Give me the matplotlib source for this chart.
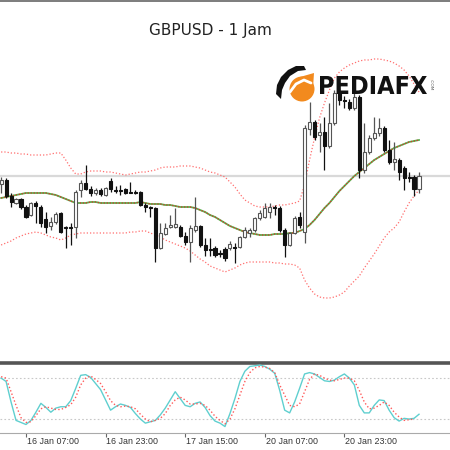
import matplotlib
matplotlib.use("Agg")
import matplotlib.pyplot as plt
import matplotlib.transforms as mtransforms
from matplotlib.textpath import TextPath
from matplotlib.font_manager import FontProperties
from matplotlib.patches import PathPatch, Circle, Polygon
from matplotlib.transforms import Affine2D
import numpy as np

# ---------------- data (GBPUSD H1) ----------------
opens = [1.2216, 1.2220, 1.2204, 1.2197, 1.2201, 1.2193, 1.2185, 1.2197, 1.2193, 1.2181,
         1.2174, 1.2178, 1.2187, 1.2173, 1.2173, 1.2173, 1.2210, 1.2217, 1.2211, 1.2207,
         1.2210, 1.2205, 1.2219, 1.2210, 1.2210, 1.2211, 1.2208, 1.2208, 1.2208, 1.2195,
         1.2193, 1.2192, 1.2152, 1.2166, 1.2173, 1.2173, 1.2173, 1.2164, 1.2158, 1.2170,
         1.2174, 1.2155, 1.2151, 1.2152, 1.2147, 1.2151, 1.2152, 1.2153, 1.2153, 1.2163,
         1.2167, 1.2170, 1.2182, 1.2183, 1.2188, 1.2193, 1.2192, 1.2170, 1.2155, 1.2167,
         1.2183, 1.2168, 1.2271, 1.2278, 1.2265, 1.2268, 1.2254, 1.2277, 1.2307, 1.2300,
         1.2298, 1.2292, 1.2303, 1.2230, 1.2248, 1.2262, 1.2267, 1.2272, 1.2250, 1.2238,
         1.2240, 1.2232, 1.2223, 1.2223, 1.2211]
highs = [1.2223, 1.2222, 1.2207, 1.2202, 1.2202, 1.2195, 1.2198, 1.2199, 1.2195, 1.2188,
         1.2183, 1.2188, 1.2188, 1.2174, 1.2177, 1.2210, 1.2220, 1.2235, 1.2214, 1.2212,
         1.2212, 1.2213, 1.2222, 1.2214, 1.2215, 1.2212, 1.2218, 1.2210, 1.2209, 1.2197,
         1.2194, 1.2193, 1.2177, 1.2177, 1.2185, 1.2192, 1.2175, 1.2168, 1.2175, 1.2203,
         1.2175, 1.2162, 1.2162, 1.2154, 1.2150, 1.2153, 1.2159, 1.2157, 1.2164, 1.2173,
         1.2172, 1.2183, 1.2190, 1.2197, 1.2197, 1.2195, 1.2194, 1.2172, 1.2168, 1.2184,
         1.2188, 1.2275, 1.2298, 1.2280, 1.2277, 1.2283, 1.2297, 1.2310, 1.2312, 1.2304,
         1.2301, 1.2307, 1.2305, 1.2277, 1.2265, 1.2283, 1.2282, 1.2274, 1.2260, 1.2258,
         1.2242, 1.2234, 1.2228, 1.2225, 1.2228]
lows = [1.2207, 1.2202, 1.2193, 1.2196, 1.2191, 1.2182, 1.2184, 1.2177, 1.2173, 1.2167,
        1.2170, 1.2176, 1.2167, 1.2152, 1.2155, 1.2162, 1.2203, 1.2210, 1.2204, 1.2205,
        1.2204, 1.2204, 1.2208, 1.2207, 1.2205, 1.2206, 1.2207, 1.2206, 1.2194, 1.2188,
        1.2183, 1.2138, 1.2151, 1.2165, 1.2172, 1.2172, 1.2163, 1.2155, 1.2138, 1.2168,
        1.2153, 1.2144, 1.2144, 1.2143, 1.2143, 1.2139, 1.2150, 1.2137, 1.2152, 1.2162,
        1.2163, 1.2168, 1.2180, 1.2182, 1.2182, 1.2185, 1.2168, 1.2143, 1.2154, 1.2166,
        1.2172, 1.2157, 1.2265, 1.2260, 1.2248, 1.2230, 1.2252, 1.2275, 1.2295, 1.2292,
        1.2290, 1.2290, 1.2222, 1.2227, 1.2246, 1.2260, 1.2264, 1.2248, 1.2236, 1.2230,
        1.2220, 1.2210, 1.2218, 1.2204, 1.2207]
closes = [1.2220, 1.2204, 1.2198, 1.2201, 1.2193, 1.2183, 1.2197, 1.2194, 1.2177, 1.2173,
          1.2178, 1.2186, 1.2168, 1.2172, 1.2172, 1.2208, 1.2217, 1.2211, 1.2207, 1.2210,
          1.2206, 1.2212, 1.2211, 1.2209, 1.2209, 1.2207, 1.2207, 1.2207, 1.2195, 1.2193,
          1.2192, 1.2152, 1.2167, 1.2172, 1.2175, 1.2176, 1.2164, 1.2158, 1.2172, 1.2174,
          1.2155, 1.2150, 1.2150, 1.2145, 1.2146, 1.2142, 1.2156, 1.2152, 1.2163, 1.2170,
          1.2170, 1.2182, 1.2187, 1.2192, 1.2193, 1.2192, 1.2170, 1.2155, 1.2167, 1.2182,
          1.2175, 1.2272, 1.2278, 1.2263, 1.2268, 1.2254, 1.2277, 1.2307, 1.2300, 1.2299,
          1.2292, 1.2303, 1.2230, 1.2248, 1.2262, 1.2267, 1.2272, 1.2250, 1.2238, 1.2241,
          1.2228, 1.2222, 1.2222, 1.2211, 1.2224]

bb_upper = [1.2248, 1.2248, 1.2247, 1.2247, 1.2246, 1.2246, 1.2245, 1.2245, 1.2245, 1.2245,
            1.2246, 1.2247, 1.2247, 1.2240, 1.2232, 1.2226, 1.2226, 1.2228, 1.2229, 1.2229,
            1.2229, 1.2228, 1.2228, 1.2227, 1.2226, 1.2225, 1.2226, 1.2227, 1.2228, 1.2228,
            1.2229, 1.2230, 1.2232, 1.2233, 1.2233, 1.2233, 1.2234, 1.2234, 1.2234, 1.2233,
            1.2232, 1.2230, 1.2228, 1.2227, 1.2225, 1.2223, 1.2218, 1.2213, 1.2206, 1.2200,
            1.2197, 1.2194, 1.2193, 1.2193, 1.2193, 1.2194, 1.2195, 1.2195, 1.2196, 1.2197,
            1.2199, 1.2215, 1.2240, 1.2262, 1.2282, 1.2297, 1.2310, 1.2322, 1.2328, 1.2332,
            1.2335, 1.2337, 1.2339, 1.2340, 1.2340, 1.2341, 1.2341, 1.2340, 1.2339, 1.2337,
            1.2334, 1.2330, 1.2324, 1.2316, 1.2308]
bb_middle = [1.2202, 1.2203, 1.2204, 1.2205, 1.2206, 1.2207, 1.2207, 1.2207, 1.2207, 1.2207,
             1.2206, 1.2205, 1.2203, 1.2201, 1.2199, 1.2197, 1.2197, 1.2197, 1.2198, 1.2198,
             1.2197, 1.2197, 1.2197, 1.2197, 1.2197, 1.2197, 1.2197, 1.2197, 1.2198, 1.2197,
             1.2196, 1.2196, 1.2196, 1.2195, 1.2195, 1.2194, 1.2193, 1.2193, 1.2193, 1.2192,
             1.2190, 1.2188, 1.2185, 1.2183, 1.2180, 1.2177, 1.2174, 1.2172, 1.2170, 1.2168,
             1.2167, 1.2166, 1.2165, 1.2165, 1.2165, 1.2166, 1.2166, 1.2166, 1.2167, 1.2167,
             1.2169, 1.2171, 1.2175, 1.2180, 1.2186, 1.2192, 1.2197, 1.2203, 1.2209, 1.2214,
             1.2219, 1.2224, 1.2228, 1.2232, 1.2236, 1.2240, 1.2243, 1.2246, 1.2249, 1.2252,
             1.2254, 1.2256, 1.2258, 1.2259, 1.2260]
bb_lower = [1.2155, 1.2157, 1.2159, 1.2162, 1.2164, 1.2166, 1.2167, 1.2168, 1.2167, 1.2165,
            1.2163, 1.2162, 1.2160, 1.2162, 1.2165, 1.2166, 1.2167, 1.2167, 1.2167, 1.2167,
            1.2167, 1.2167, 1.2167, 1.2167, 1.2167, 1.2167, 1.2168, 1.2168, 1.2169, 1.2169,
            1.2167, 1.2165, 1.2163, 1.2160, 1.2158, 1.2156, 1.2154, 1.2152, 1.2149, 1.2145,
            1.2141, 1.2138, 1.2134, 1.2132, 1.2130, 1.2128, 1.2130, 1.2132, 1.2135, 1.2137,
            1.2138, 1.2138, 1.2138, 1.2138, 1.2138, 1.2137, 1.2137, 1.2136, 1.2136, 1.2135,
            1.2132, 1.2120, 1.2112, 1.2106, 1.2103, 1.2102, 1.2102, 1.2103, 1.2105, 1.2108,
            1.2114, 1.2119, 1.2124, 1.2132, 1.2139, 1.2146, 1.2154, 1.2162, 1.2168, 1.2172,
            1.2178, 1.2188, 1.2197, 1.2204, 1.2210]

stoch_k = [80, 75, 45, 18, 15, 12, 18, 30, 43, 37,
           30, 36, 38, 38, 47, 65, 84, 85, 81, 72,
           63, 48, 33, 38, 42, 40, 37, 28, 20, 14,
           16, 18, 26, 36, 48, 60, 50, 40, 38, 43,
           45, 37, 25, 17, 14, 9, 28, 50, 75, 90,
           97, 98, 99, 97, 93, 87, 62, 33, 29, 45,
           65, 86, 88, 86, 81, 76, 75, 77, 82, 86,
           80, 70, 40, 29, 29, 40, 48, 47, 33, 22,
           17, 21, 20, 21, 27]
stoch_d = [82, 80, 60, 40, 22, 15, 16, 25, 35, 38,
           36, 34, 34, 37, 41, 52, 70, 80, 83, 78,
           72, 60, 47, 40, 38, 39, 38, 35, 27, 20,
           16, 18, 21, 28, 40, 48, 52, 48, 42, 42,
           43, 40, 33, 24, 18, 13, 20, 35, 55, 75,
           88, 95, 97, 96, 94, 88, 70, 55, 40, 38,
           42, 60, 78, 86, 84, 80, 77, 76, 78, 80,
           80, 76, 62, 45, 35, 36, 40, 45, 40, 30,
           23, 18, 19, 20, np.nan]

tick_positions = [5, 21, 37, 53, 69]
tick_labels = ["16 Jan 07:00", "16 Jan 23:00", "17 Jan 15:00", "20 Jan 07:00", "20 Jan 23:00"]
title_text = "GBPUSD - 1 Jam"
stoch_levels = [20, 80]

# ---------------- figure ----------------
W = H = 450
fig = plt.figure(figsize=(4.5, 4.5), dpi=100)
fig.patch.set_facecolor("white")

def fpos(x0, ytop, x1, ybot):
    return [x0 / W, (H - ybot) / H, (x1 - x0) / W, (ybot - ytop) / H]

ax = fig.add_axes(fpos(0, 1, 450, 362))
axs = fig.add_axes(fpos(0, 363, 450, 433))

n = len(closes)
idx = np.arange(n)
xlim = (-0.22, 90.23)

# current price line
ax.axhline(closes[-1], color="#d9d9d9", lw=1.6, zorder=1)

# bands
ax.plot(idx, bb_upper, color="#ff6f6f", lw=0.9, ls=(0, (1, 1.6)), zorder=2)
ax.plot(idx, bb_lower, color="#ff6f6f", lw=0.9, ls=(0, (1, 1.6)), zorder=2)
ax.plot(idx, bb_middle, color="#5aae4e", lw=1.3, zorder=2)
ax.plot(idx, bb_middle, color="#d9342b", lw=0.9, ls=(0, (1, 1.4)), zorder=2.1)

# candles
o = np.array(opens); c = np.array(closes); h = np.array(highs); l = np.array(lows)
bull = c >= o
ax.vlines(idx[bull], l[bull], h[bull], color="#555555", lw=0.9, zorder=3)
ax.vlines(idx[~bull], l[~bull], h[~bull], color="#111111", lw=0.9, zorder=3)
body_lo = np.minimum(o, c)
body_h = np.maximum(np.abs(c - o), 0.00008)
ax.bar(idx[bull], body_h[bull], bottom=body_lo[bull], width=0.62,
       facecolor="white", edgecolor="#555555", linewidth=0.8, zorder=4)
ax.bar(idx[~bull], body_h[~bull], bottom=body_lo[~bull], width=0.62,
       facecolor="#111111", edgecolor="#111111", linewidth=0.8, zorder=4)

ax.set_xlim(*xlim)
ax.set_ylim(1.2038, 1.2399)
ax.set_xticks([]); ax.set_yticks([])
for s in ["left", "right", "bottom"]:
    ax.spines[s].set_visible(False)
ax.spines["top"].set_color("#666666")
ax.spines["top"].set_linewidth(1.2)

# stochastic
for lv in stoch_levels:
    axs.axhline(lv, color="#c8c8c8", lw=0.8, ls=(0, (1.5, 2)), zorder=1)
axs.plot(idx, stoch_k, color="#5fcfcf", lw=1.0, zorder=3)
axs.plot(idx, stoch_d, color="#ff5a5a", lw=1.0, ls=(0, (1, 1.6)), zorder=3)
axs.set_xlim(*xlim)
axs.set_ylim(-0.44, 102.05)
axs.set_yticks([])
axs.set_xticks(tick_positions)
axs.set_xticklabels([])
axs.tick_params(axis="x", direction="out", length=3, width=0.8, color="#666666")
for s in ["left", "right"]:
    axs.spines[s].set_visible(False)
axs.spines["top"].set_color("#555555")
axs.spines["top"].set_linewidth(2.6)
axs.spines["bottom"].set_color("#aaaaaa")
axs.spines["bottom"].set_linewidth(0.8)

trans = mtransforms.blended_transform_factory(axs.transData, fig.transFigure)
for tp, tl in zip(tick_positions, tick_labels):
    axs.text(tp + 0.15, (H - 441) / H, tl, transform=trans, ha="left", va="center",
             fontsize=6.4, color="#333333", family="Liberation Sans", clip_on=False)

# overlay in pixel coordinates for title and logo
ov = fig.add_axes([0, 0, 1, 1], zorder=10)
ov.set_xlim(0, W); ov.set_ylim(H, 0)
ov.axis("off"); ov.patch.set_visible(False)

ov.text(210, 31, title_text, ha="center", va="center", fontsize=11, color="#222222",
        family="DejaVu Sans")

# logo icon
ov.add_patch(Circle((302, 89), 12.5, facecolor="#f28a1e", edgecolor="none"))
ov.add_patch(Polygon([(300, 77), (314, 73), (313, 88)], closed=True,
                     facecolor="#f28a1e", edgecolor="none"))
ov.add_patch(Polygon([(276, 94), (277, 85), (281, 77), (288, 70), (296, 66), (304, 66),
                      (306, 70), (298, 71), (290, 76), (285, 83), (282, 90), (281, 99)],
                     closed=True, facecolor="#111111", edgecolor="none"))
ov.plot([290, 296, 304, 311], [92, 84, 80, 83], color="white", lw=2.0, solid_capstyle="round")

tp_ = TextPath((0, 0), "PEDIAFX", size=10, prop=FontProperties(family="DejaVu Sans", weight="bold"))
ext = tp_.get_extents()
sx = 107 / ext.width; sy = 18 / ext.height
tr = Affine2D().translate(-ext.x0, -ext.y0).scale(sx, -sy).translate(320, 94)
ov.add_patch(PathPatch(tr.transform_path(tp_), facecolor="#111111", edgecolor="none"))
ov.text(431, 85, ".COM", rotation=270, ha="center", va="center", fontsize=3.2, color="#555555")

fig.savefig("out.png", dpi=100)
